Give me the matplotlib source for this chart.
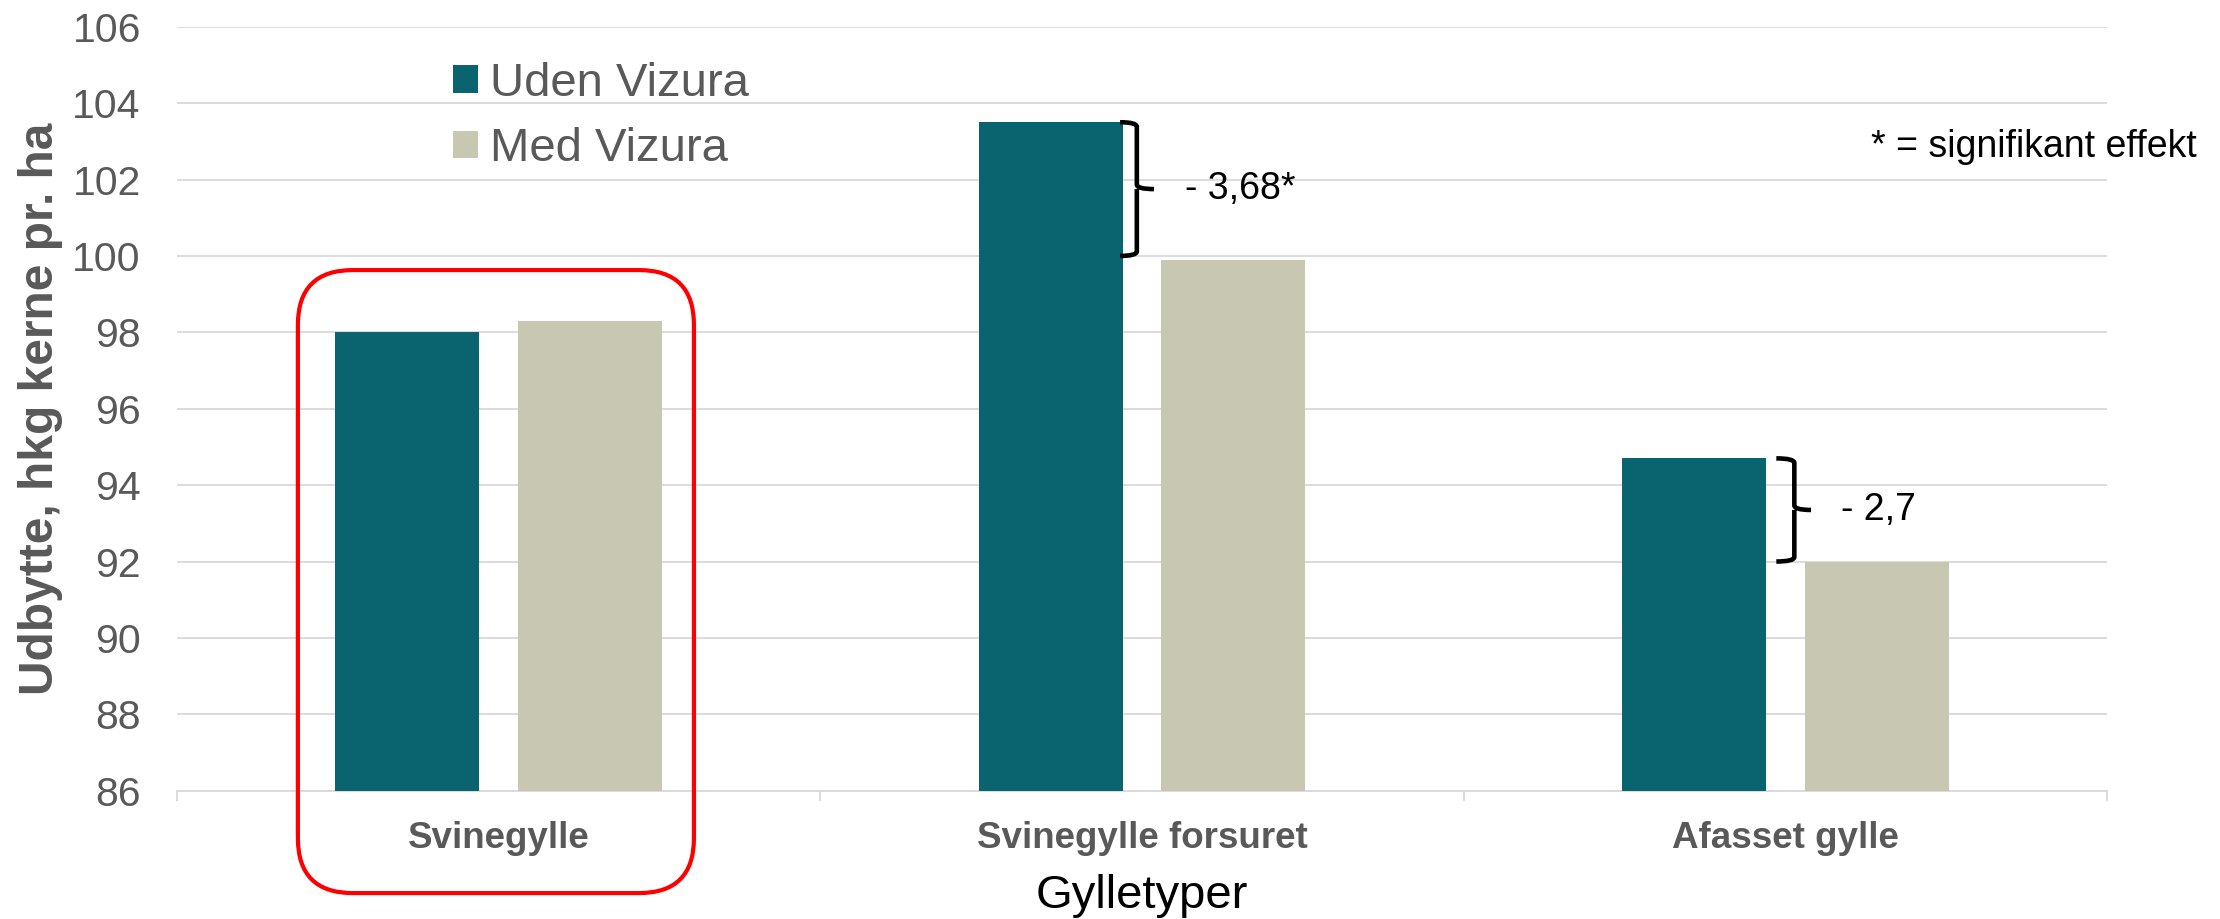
import matplotlib
matplotlib.use("Agg")
import matplotlib.pyplot as plt
from matplotlib.patches import FancyBboxPatch
from matplotlib.path import Path
from matplotlib.patches import PathPatch
import numpy as np

plt.rcParams['font.family'] = ['Liberation Sans', 'DejaVu Sans']

categories = ["Svinegylle", "Svinegylle forsuret", "Afasset gylle"]
series_names = ["Uden Vizura", "Med Vizura"]
uden = [98.0, 103.5, 94.7]
med = [98.3, 99.9, 92.0]
diff_labels = [None, "- 3,68*", "- 2,7"]
yticks = list(range(86, 107, 2))

TEAL = "#0A6470"
BEIGE = "#C8C7B2"
GRAY = "#595959"
GRID = "#D9D9D9"

fig = plt.figure(figsize=(22.2, 9.19), dpi=100)
ax = fig.add_axes([0.0797, 0.1396, 0.8694, 0.8313])

x = np.arange(len(categories))
bw = 0.224
off = 0.142
ax.bar(x - off, uden, bw, color=TEAL, label=series_names[0], zorder=3)
ax.bar(x + off, med, bw, color=BEIGE, label=series_names[1], zorder=3)

ax.set_ylim(86, 106)
ax.set_xlim(-0.5, len(categories) - 0.5)
ax.set_yticks(yticks)
ax.set_yticklabels([str(t) for t in yticks], fontsize=29.5, color=GRAY)
ax.tick_params(axis='y', length=0, pad=26)
ax.yaxis.grid(True, color=GRID, linewidth=1.3, zorder=0)
ax.set_axisbelow(True)

# category ticks: major at boundaries (marks), minor at centers (labels)
ax.set_xticks(np.arange(-0.5, len(categories), 1.0))
ax.set_xticklabels([])
ax.tick_params(axis='x', which='major', length=7.5, width=1.3, color=GRID)
ax.set_xticks(x, minor=True)
ax.set_xticklabels(categories, minor=True, fontsize=26.5, fontweight='bold', color=GRAY)
ax.tick_params(axis='x', which='minor', length=0, pad=22)

for s in ['top', 'right', 'left']:
    ax.spines[s].set_visible(False)
ax.spines['bottom'].set_color(GRID)
ax.spines['bottom'].set_linewidth(1.3)

ax.set_ylabel("Udbytte, hkg kerne pr. ha", fontsize=34.5, fontweight='bold', color=GRAY)
ax.yaxis.set_label_coords(-0.059, 0.5)
ax.text(0.5, -0.1535, "Gylletyper", transform=ax.transAxes, ha='center', va='baseline',
        fontsize=34, color='black')

leg = ax.legend(loc='upper left', bbox_to_anchor=(453 / 2220, 1 - 62 / 919),
                bbox_transform=fig.transFigure, frameon=False, fontsize=34,
                handlelength=0.53, handleheight=0.52, handletextpad=0.25,
                labelspacing=0.45, borderpad=0, borderaxespad=0)
for t in leg.get_texts():
    t.set_color(GRAY)

# braces with difference labels (offsets relative to category centre)
brace_specs = {1: (-0.034, -0.008, 0.0187, 0.067, 0.1),
               2: (-0.014, 0.014, 0.040, 0.087, 0.0)}
for i, lab in enumerate(diff_labels):
    if lab is None:
        continue
    x0r, x1r, x2r, xtr, lift = brace_specs[i]
    top = uden[i]
    bot = med[i] + lift
    mid = (top + bot) / 2
    xc = x[i]
    x0, x1, x2, xt = xc + x0r, xc + x1r, xc + x2r, xc + xtr
    r = 0.12
    verts = [(x0, top), (x1, top), (x1, top - r),
             (x1, mid + r), (x1, mid), (x2, mid),
             (x1, mid), (x1, mid - r),
             (x1, bot + r), (x1, bot), (x0, bot)]
    codes = [Path.MOVETO, Path.CURVE3, Path.CURVE3,
             Path.LINETO, Path.CURVE3, Path.CURVE3,
             Path.MOVETO, Path.LINETO,
             Path.LINETO, Path.CURVE3, Path.CURVE3]
    pp = PathPatch(Path(verts, codes), facecolor='none', edgecolor='black',
                   linewidth=3.3, capstyle='butt', joinstyle='round', zorder=4)
    ax.add_patch(pp)
    ax.text(xt, mid, lab, fontsize=27, color='black', ha='left', va='center')

fig.text(2197 / 2220, 1 - 147 / 919, "* = signifikant effekt", fontsize=27,
         color='black', ha='right', va='center')

# red rounded highlight box around first category
bx0, bx1 = x[0] - 0.312, x[0] + 0.3036
by0, by1 = 83.32, 99.63
box = FancyBboxPatch((bx0, by0), bx1 - bx0, by1 - by0,
                     boxstyle="round,pad=0,rounding_size=0.0855",
                     mutation_aspect=16.8, facecolor='none', edgecolor='#FF0000',
                     linewidth=3.0, clip_on=False, zorder=5)
ax.add_patch(box)

fig.savefig("out.png", dpi=100)
